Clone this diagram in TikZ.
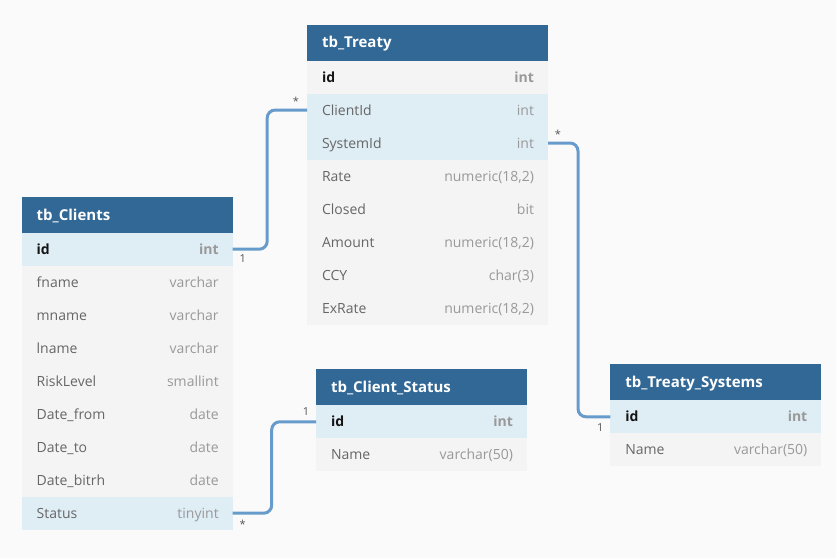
\documentclass[tikz,border=0pt]{standalone}
\usepackage{fontspec}
\setmainfont{Open Sans}
\usetikzlibrary{positioning}
\definecolor{bgcol}{HTML}{FAFAFA}
\definecolor{hdrblue}{HTML}{316896}
\definecolor{rowgray}{HTML}{F4F4F4}
\definecolor{rowhl}{HTML}{DFEDF5}
\definecolor{namegray}{HTML}{666666}
\definecolor{typegray}{HTML}{999999}
\definecolor{keyblack}{HTML}{151515}
\definecolor{linkblue}{HTML}{679BCB}
\definecolor{cardgray}{HTML}{555555}

\begin{document}
\begin{tikzpicture}[
        x=1pt, y=-1pt,
        every node/.style={inner sep=0pt, outer sep=0pt},
        tblhead/.style={fill=hdrblue, text=white, font=\fontsize{15}{18}\selectfont\bfseries, text width=#1, inner xsep=15pt, minimum height=36pt, text height=10.7pt, text depth=0pt, align=left, anchor=north west},
        field/.style={fill=rowgray, text=namegray, font=\fontsize{14}{17}\selectfont, text width=#1, inner xsep=15pt, minimum height=33pt, text height=10pt, text depth=0pt, align=left},
        keyfield/.style={text=keyblack, font=\fontsize{14}{17}\selectfont\bfseries},
        hl/.style={fill=rowhl},
        ftype/.style={anchor=east, xshift=-14pt, text=typegray, font=\fontsize{14}{17}\selectfont, text height=10pt, text depth=0pt},
        keytype/.style={ftype, font=\fontsize{14}{17}\selectfont\bfseries},
        link/.style={draw=linkblue, line width=3pt, rounded corners=8pt},
        card/.style={text=cardgray, font=\fontsize{11}{13}\selectfont}
    ]
        % Background
        \fill[bgcol] (0,0) rectangle (836,558);

        % tb_Treaty
        \node[tblhead=211pt] (treaty) at (307,24.5) {tb\_Treaty};
        \node[field=211pt, keyfield, below=0pt of treaty, label={[keytype]east:int}] (treaty-id) {id};
        \node[field=211pt, hl, below=0pt of treaty-id, label={[ftype]east:int}] (treaty-clientid) {ClientId};
        \node[field=211pt, hl, below=0pt of treaty-clientid, label={[ftype]east:int}] (treaty-systemid) {SystemId};
        \node[field=211pt, below=0pt of treaty-systemid, label={[ftype]east:numeric(18,2)}] (treaty-rate) {Rate};
        \node[field=211pt, below=0pt of treaty-rate, label={[ftype]east:bit}] (treaty-closed) {Closed};
        \node[field=211pt, below=0pt of treaty-closed, label={[ftype]east:numeric(18,2)}] (treaty-amount) {Amount};
        \node[field=211pt, below=0pt of treaty-amount, label={[ftype]east:char(3)}] (treaty-ccy) {CCY};
        \node[field=211pt, below=0pt of treaty-ccy, label={[ftype]east:numeric(18,2)}] (treaty-exrate) {ExRate};

        % tb_Clients
        \node[tblhead=181pt] (clients) at (21.7,196.7) {tb\_Clients};
        \node[field=181pt, keyfield, hl, below=0pt of clients, label={[keytype]east:int}] (clients-id) {id};
        \node[field=181pt, below=0pt of clients-id, label={[ftype]east:varchar}] (clients-fname) {fname};
        \node[field=181pt, below=0pt of clients-fname, label={[ftype]east:varchar}] (clients-mname) {mname};
        \node[field=181pt, below=0pt of clients-mname, label={[ftype]east:varchar}] (clients-lname) {lname};
        \node[field=181pt, below=0pt of clients-lname, label={[ftype]east:smallint}] (clients-risk) {RiskLevel};
        \node[field=181pt, below=0pt of clients-risk, label={[ftype]east:date}] (clients-from) {Date\_from};
        \node[field=181pt, below=0pt of clients-from, label={[ftype]east:date}] (clients-to) {Date\_to};
        \node[field=181pt, below=0pt of clients-to, label={[ftype]east:date}] (clients-birth) {Date\_bitrh};
        \node[field=181pt, hl, below=0pt of clients-birth, label={[ftype]east:tinyint}] (clients-status) {Status};

        % tb_Client_Status
        \node[tblhead=181pt] (status) at (316,369.3) {tb\_Client\_Status};
        \node[field=181pt, keyfield, hl, below=0pt of status, label={[keytype]east:int}] (status-id) {id};
        \node[field=181pt, below=0pt of status-id, label={[ftype]east:varchar(50)}] (status-name) {Name};

        % tb_Treaty_Systems
        \node[tblhead=181pt] (systems) at (610.3,364.3) {tb\_Treaty\_Systems};
        \node[field=181pt, keyfield, hl, below=0pt of systems, label={[keytype]east:int}] (systems-id) {id};
        \node[field=181pt, below=0pt of systems-id, label={[ftype]east:varchar(50)}] (systems-name) {Name};

        % Relations
        \draw[link] (clients-id.east) node[card, shift={(10,9.5)}] {1} -- ++(34.5,0) |- (treaty-clientid.west) node[card, shift={(-11,-9)}] {*};
        \draw[link] (treaty-systemid.east) node[card, shift={(10,-9)}] {*} -- ++(30,0) |- (systems-id.west) node[card, shift={(-10,10.5)}] {1};
        \draw[link] (clients-status.east) node[card, shift={(10,11)}] {*} -- ++(39,0) |- (status-id.west) node[card, shift={(-10,-10.5)}] {1};
    \end{tikzpicture}
\end{document}
